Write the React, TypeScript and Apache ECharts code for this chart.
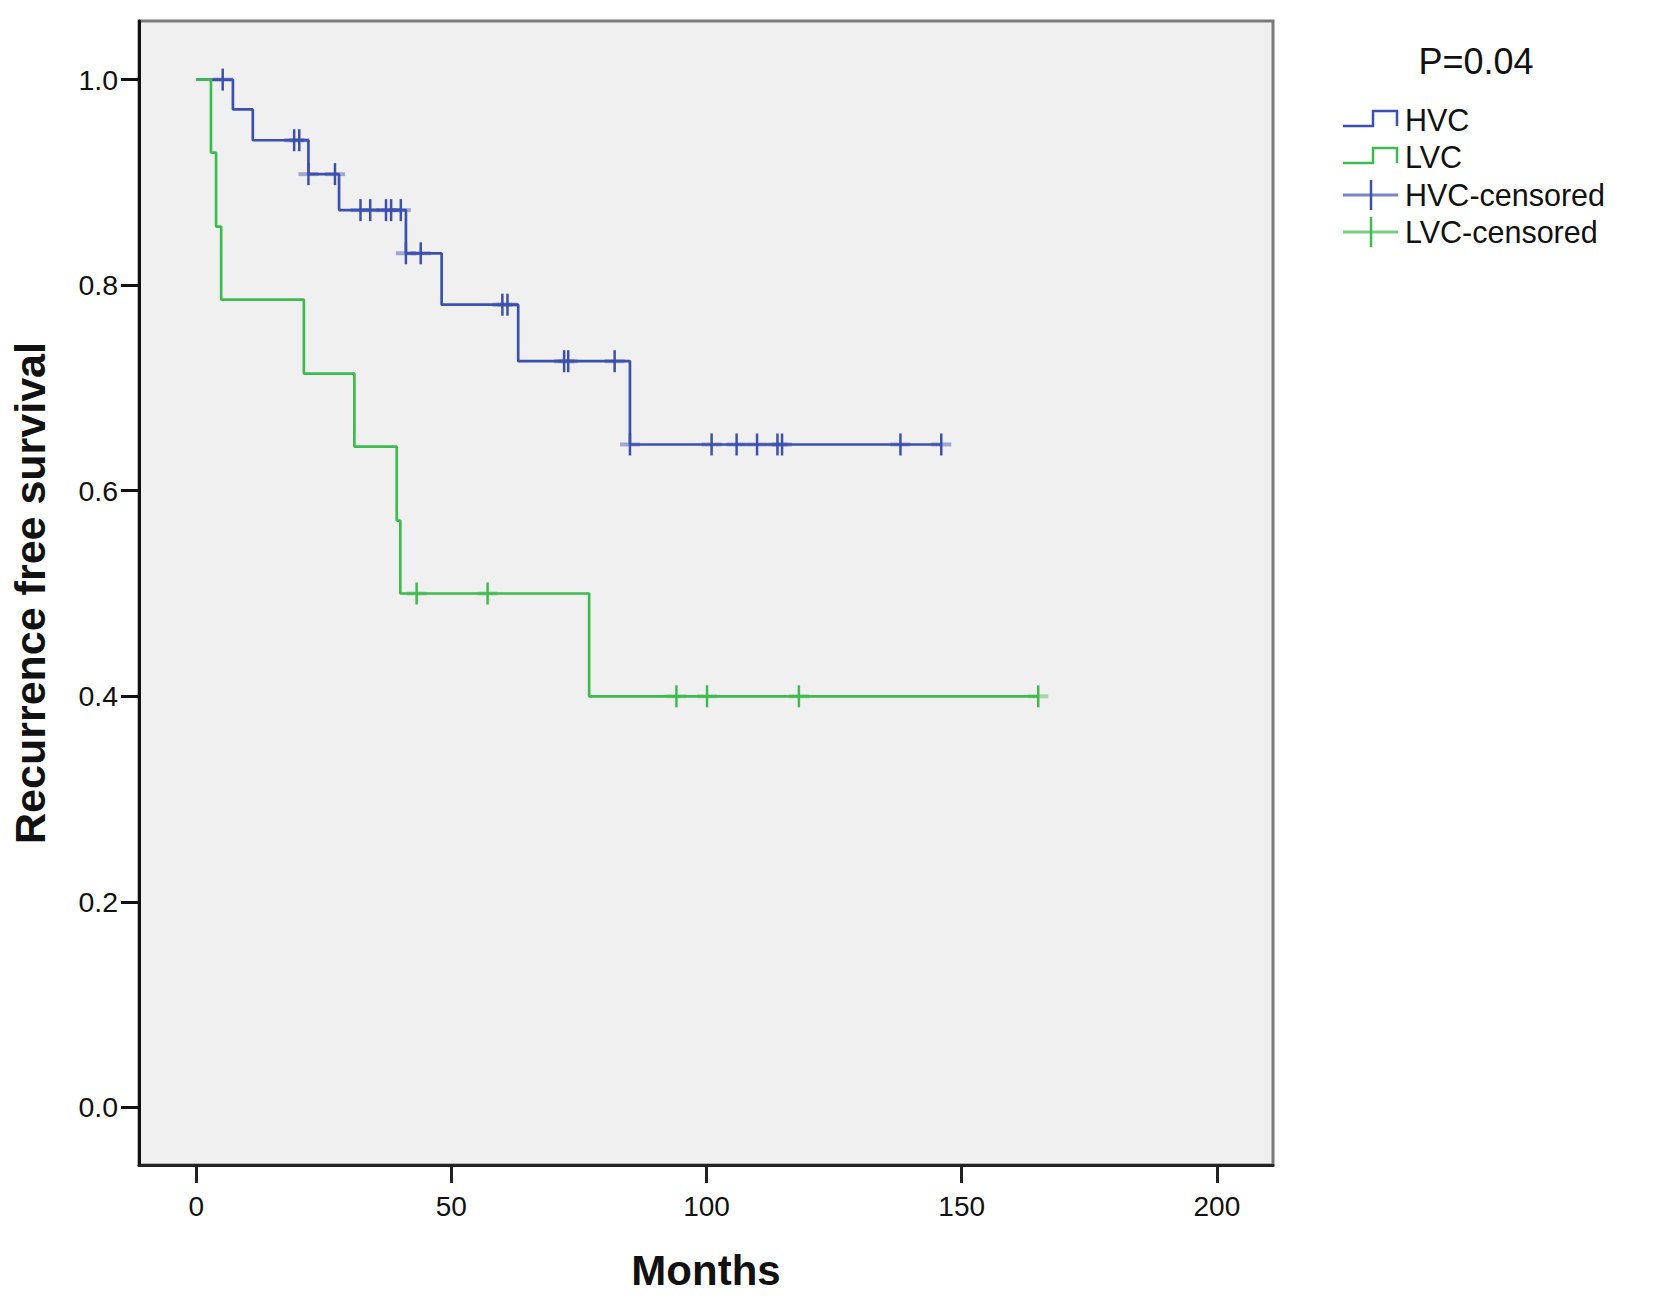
import React, { useEffect, useRef } from "react";
import * as echarts from "echarts";

// ---- Data ----
const xTicks = [0, 50, 100, 150, 200];
const yTicks = [0, 0.2, 0.4, 0.6, 0.8, 1.0];

// HVC step curve: event times (months) and survival after each step
const hvcTimes = [0, 7.2, 11.1, 22.0, 28.0, 41.1, 48.1, 63.1, 85.0, 146.0];
const hvcSurv = [1.0, 0.971, 0.941, 0.908, 0.873, 0.831, 0.781, 0.726, 0.645, 0.645];
// HVC censored times and the survival level they sit on
const hvcCensTimes = [5.2, 19.2, 20.2, 22.0, 27.2, 32.2, 34.1, 37.2, 38.2, 40.1, 41.1, 44.0, 60.0, 61.0, 72.1, 72.9, 82.0, 85.0, 101.0, 105.9, 109.9, 113.9, 114.8, 138.0, 146.0];
const hvcCensSurv = [1.0, 0.941, 0.941, 0.908, 0.908, 0.873, 0.873, 0.873, 0.873, 0.873, 0.831, 0.831, 0.781, 0.781, 0.726, 0.726, 0.726, 0.645, 0.645, 0.645, 0.645, 0.645, 0.645, 0.645, 0.645];

// LVC step curve
const lvcTimes = [0, 2.9, 3.9, 4.9, 21.1, 31.0, 39.3, 40.0, 77.0, 165.0];
const lvcSurv = [1.0, 0.929, 0.857, 0.786, 0.714, 0.643, 0.571, 0.5, 0.4, 0.4];
const lvcCensTimes = [43.2, 57.1, 94.1, 100.1, 118.1, 165.0];
const lvcCensSurv = [0.5, 0.5, 0.4, 0.4, 0.4, 0.4];

const seriesNames = ["HVC", "LVC", "HVC-censored", "LVC-censored"];
const pValueText = "P=0.04";
const xTitle = "Months";
const yTitle = "Recurrence free survival";

const BLUE = "#3c50b0";
const GREEN = "#3dbb4f";
const FONT = "Liberation Sans, Arial, sans-serif";

function zip(a: number[], b: number[]) {
  return a.map((v, i) => [v, b[i]]);
}

function censorSeries(name: string, data: number[][], color: string) {
  return {
    name,
    type: "custom",
    data,
    z: 4,
    renderItem: (params: any, api: any) => {
      const p = api.coord([api.value(0), api.value(1)]);
      return {
        type: "group",
        children: [
          {
            type: "line",
            shape: { x1: p[0] - 10, y1: p[1], x2: p[0] + 10, y2: p[1] },
            style: { stroke: color, lineWidth: 4, opacity: 0.45 },
          },
          {
            type: "line",
            shape: { x1: p[0], y1: p[1] - 11, x2: p[0], y2: p[1] + 11 },
            style: { stroke: color, lineWidth: 2.5 },
          },
        ],
      };
    },
  };
}

export default function App() {
  const ref = useRef<HTMLDivElement>(null);

  useEffect(() => {
    document.body.style.margin = "0";
    if (!ref.current) return;
    const chart = echarts.init(ref.current, undefined, { renderer: "svg" });

    const lx = 1343;
    const legendRows = [120, 157, 195, 232];
    const stepGlyph = (y: number, color: string) => ({
      type: "polyline",
      shape: {
        points: [
          [lx, y + 6],
          [lx + 30, y + 6],
          [lx + 30, y - 9],
          [lx + 54, y - 9],
          [lx + 54, y + 6],
        ],
      },
      style: { stroke: color, lineWidth: 2.5, fill: "none" },
    });
    const crossGlyph = (y: number, color: string) => ({
      type: "group",
      children: [
        {
          type: "line",
          shape: { x1: lx, y1: y, x2: lx + 55, y2: y },
          style: { stroke: color, lineWidth: 3, opacity: 0.7 },
        },
        {
          type: "line",
          shape: { x1: lx + 28, y1: y - 15, x2: lx + 28, y2: y + 15 },
          style: { stroke: color, lineWidth: 2.5 },
        },
      ],
    });
    const legendText = (y: number, t: string) => ({
      type: "text",
      x: lx + 62,
      y,
      style: {
        text: t,
        fill: "#111",
        font: `30.5px ${FONT}`,
        textVerticalAlign: "middle",
        verticalAlign: "middle",
      },
    });

    chart.setOption({
      animation: false,
      backgroundColor: "#ffffff",
      grid: {
        left: 138,
        top: 21,
        right: 383,
        bottom: 134,
        show: true,
        backgroundColor: "#f0f0f0",
        borderColor: "#7a7a7a",
        borderWidth: 3,
      },
      xAxis: {
        type: "value",
        min: -11.2,
        max: 211,
        name: xTitle,
        nameLocation: "middle",
        nameGap: 84,
        nameTextStyle: { fontFamily: FONT, fontWeight: "bold", fontSize: 42, color: "#111" },
        axisLine: { show: true, onZero: false, lineStyle: { color: "#222", width: 3 } },
        axisTick: { show: true, inside: false, length: 18, lineStyle: { color: "#222", width: 3 }, customValues: xTicks },
        axisLabel: { customValues: xTicks, margin: 27, fontFamily: FONT, fontSize: 28, color: "#111" },
        splitLine: { show: false },
      },
      yAxis: {
        type: "value",
        min: -0.056,
        max: 1.057,
        name: yTitle,
        nameLocation: "middle",
        nameGap: 88,
        nameTextStyle: { fontFamily: FONT, fontWeight: "bold", fontSize: 43, color: "#111" },
        axisLine: { show: true, onZero: false, lineStyle: { color: "#111", width: 3 } },
        axisTick: { show: true, inside: false, length: 18, lineStyle: { color: "#111", width: 3 }, customValues: yTicks },
        axisLabel: {
          customValues: yTicks,
          margin: 21,
          fontFamily: FONT,
          fontSize: 28.5,
          color: "#111",
          formatter: (v: number) => v.toFixed(1),
        },
        splitLine: { show: false },
      },
      series: [
        {
          name: seriesNames[0],
          type: "line",
          step: "end",
          data: zip(hvcTimes, hvcSurv),
          showSymbol: false,
          lineStyle: { color: BLUE, width: 2.7 },
          z: 3,
        },
        {
          name: seriesNames[1],
          type: "line",
          step: "end",
          data: zip(lvcTimes, lvcSurv),
          showSymbol: false,
          lineStyle: { color: GREEN, width: 2.7 },
          z: 3,
        },
        censorSeries(seriesNames[2], zip(hvcCensTimes, hvcCensSurv), BLUE),
        censorSeries(seriesNames[3], zip(lvcCensTimes, lvcCensSurv), GREEN),
      ],
      graphic: [
        {
          type: "text",
          x: 1476,
          y: 61,
          style: {
            text: pValueText,
            fill: "#111",
            font: `36px ${FONT}`,
            textAlign: "center",
            align: "center",
            textVerticalAlign: "middle",
            verticalAlign: "middle",
          },
        },
        stepGlyph(legendRows[0], BLUE),
        legendText(legendRows[0], seriesNames[0]),
        stepGlyph(legendRows[1], GREEN),
        legendText(legendRows[1], seriesNames[1]),
        crossGlyph(legendRows[2], BLUE),
        legendText(legendRows[2], seriesNames[2]),
        crossGlyph(legendRows[3], GREEN),
        legendText(legendRows[3], seriesNames[3]),
      ],
    });

    return () => chart.dispose();
  }, []);

  return <div ref={ref} style={{ width: 1656, height: 1299 }} />;
}
